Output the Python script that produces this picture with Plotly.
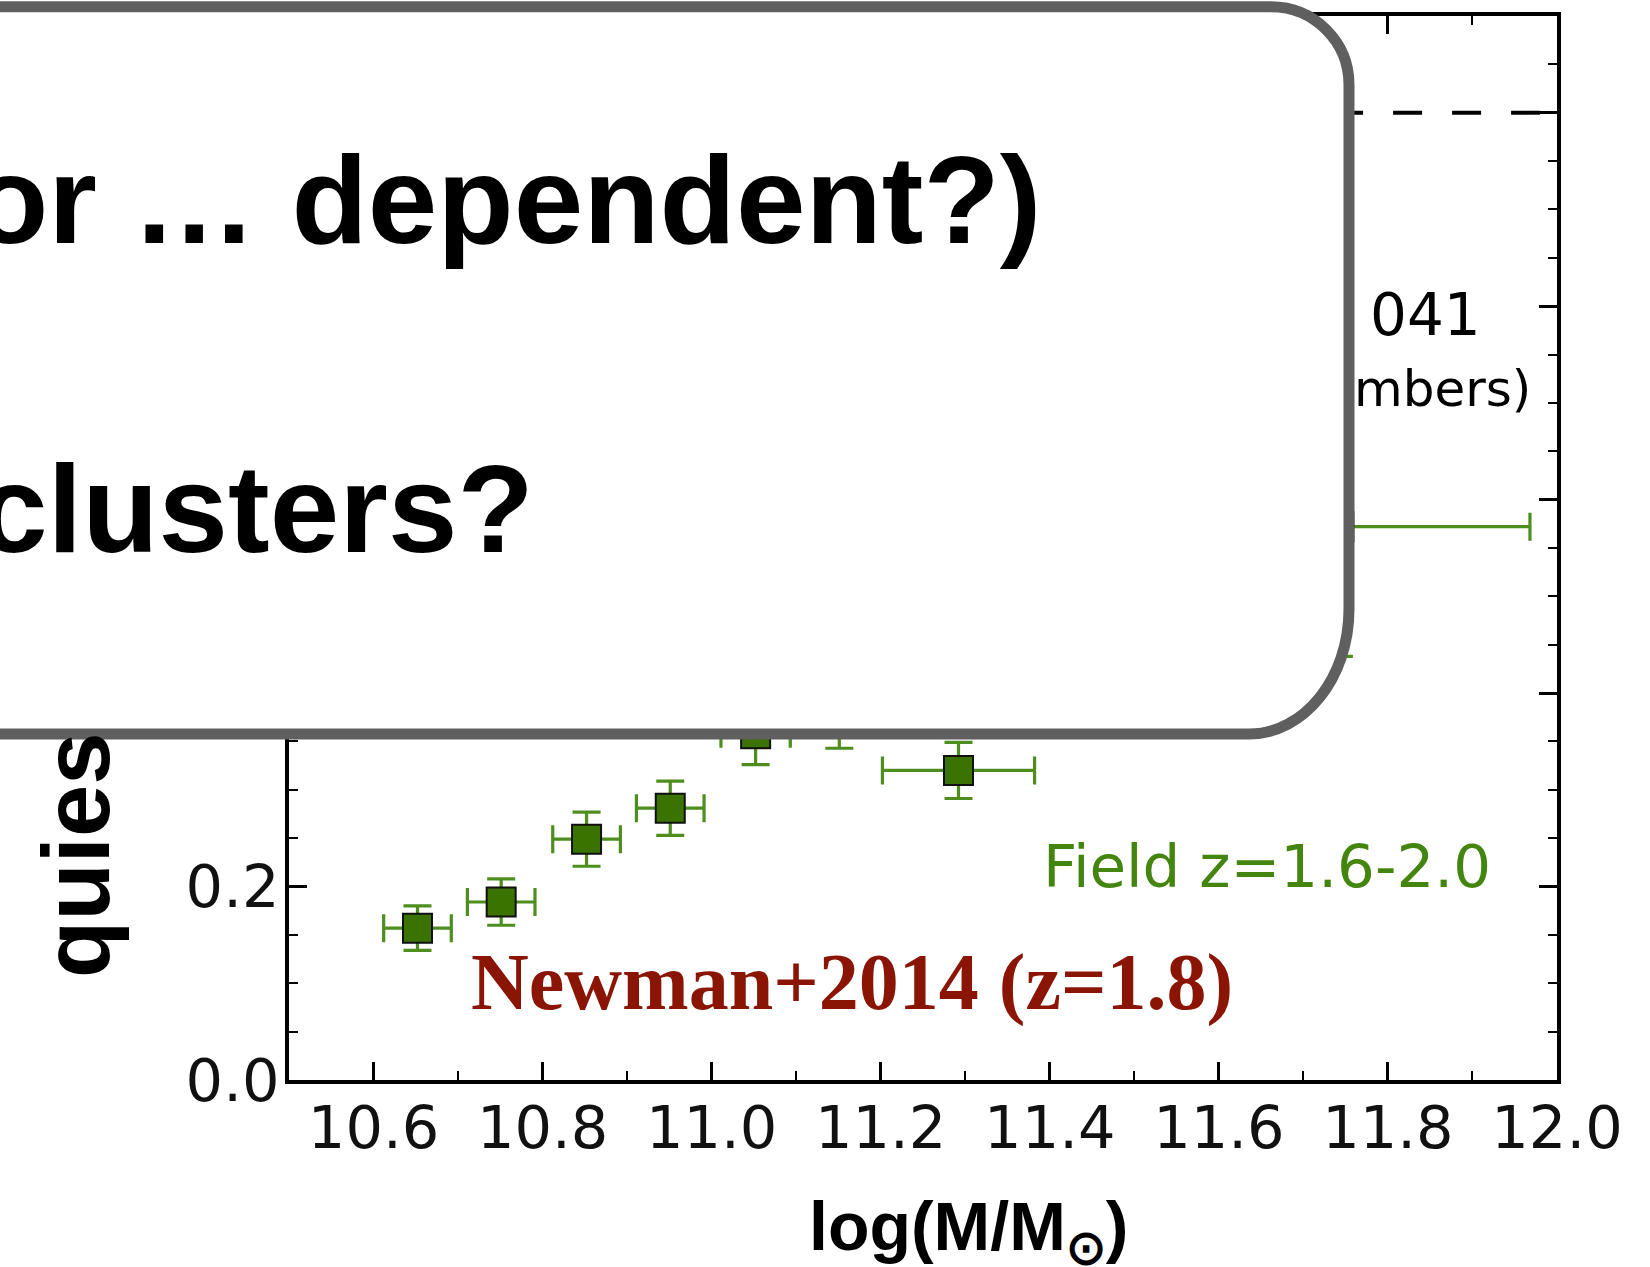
import plotly.graph_objects as go

# ---- data: quiescent fraction of field galaxies vs stellar mass ----
log_mass = [10.652, 10.751, 10.852, 10.951, 11.052, 11.151, 11.292, 11.742]
f_quiescent = [0.157, 0.184, 0.249, 0.281, 0.358, 0.373, 0.320, 0.572]
mass_err = [0.040, 0.040, 0.040, 0.040, 0.041, 0.040, 0.090, 0.226]
frac_err = [0.023, 0.024, 0.028, 0.028, 0.032, 0.030, 0.029, 0.134]

ref_mass = [10.48, 12.0]
ref_level = [1.0, 1.0]

x_range = [10.5, 12.0]
y_range = [0.0, 1.1]

# ---- page geometry (pixels) ----
W, H = 1650, 1267
ML, MR, MT, MB = 289, 93, 16, 187
PW = W - ML - MR
PH = H - MT - MB


def px(x):
    return (x - ML) / PW


def py(y):
    return (H - MB - y) / PH


GREEN_FILL = "#3a7300"
GREEN_BAR = "#4d8e1e"
GREEN_TEXT = "#43850f"
SANS = "Liberation Sans, Arial, Helvetica, sans-serif"
MPL = "DejaVu Sans, sans-serif"

fig = go.Figure()

fig.add_trace(go.Scatter(
    x=ref_mass, y=ref_level, mode="lines",
    line=dict(color="black", width=4, dash="29px,30px"),
    hoverinfo="skip", showlegend=False,
))

fig.add_trace(go.Scatter(
    x=log_mass, y=f_quiescent, mode="markers",
    marker=dict(symbol="square", size=29, color=GREEN_FILL,
                line=dict(color="#111111", width=2)),
    error_x=dict(type="data", array=mass_err, color=GREEN_BAR, thickness=3.2, width=14),
    error_y=dict(type="data", array=frac_err, color=GREEN_BAR, thickness=3.2, width=14),
    showlegend=False,
))

axis_common = dict(
    showline=True, linecolor="black", linewidth=3.5, mirror="ticks",
    ticks="inside", ticklen=18, tickwidth=2.5, tickcolor="black",
    showgrid=False, zeroline=False, tickformat=".1f",
    tickfont=dict(family=MPL, size=59, color="#111111"),
)

fig.update_xaxes(
    range=x_range, dtick=0.2, tick0=0,
    minor=dict(dtick=0.1, ticks="inside", ticklen=9, tickwidth=2, tickcolor="black"),
    ticklabelstandoff=-7,
    **axis_common,
)
fig.update_yaxes(
    range=y_range, dtick=0.2, tick0=0,
    minor=dict(dtick=0.05, ticks="inside", ticklen=9, tickwidth=2, tickcolor="black"),
    ticklabelstandoff=-6,
    **axis_common,
)

# ---- slide callout box with rounded right corners ----
k = 0.5523
x_r = 1349
y_t, y_b = 6.7, 734
r_top = 78
rx_b, ry_b = 100, 125
pts = [
    ("M", (-80, y_t)),
    ("L", (x_r - r_top, y_t)),
    ("C", (x_r - r_top + r_top * k, y_t), (x_r, y_t + r_top - r_top * k), (x_r, y_t + r_top)),
    ("L", (x_r, y_b - ry_b)),
    ("C", (x_r, y_b - ry_b + ry_b * k), (x_r - rx_b + rx_b * k, y_b), (x_r - rx_b, y_b)),
    ("L", (-80, y_b)),
]
path = ""
for cmd, *coords in pts:
    path += cmd + " ".join(f"{px(a):.5f},{py(b):.5f}" for a, b in coords) + " "
path += "Z"

fig.add_shape(type="path", path=path, xref="paper", yref="paper",
              fillcolor="white", line=dict(color="#5f5f5f", width=11), layer="above")


def note(text, x, y, size, family, color="black", xanchor="left", bold=False, angle=0):
    fig.add_annotation(
        text=text, x=px(x), y=py(y), xref="paper", yref="paper",
        xanchor=xanchor, yanchor="middle", showarrow=False, textangle=angle,
        borderpad=0, borderwidth=0,
        font=dict(family=family, size=size, color=color, weight="bold" if bold else "normal"),
    )


# slide text
note("or … dependent?)", -28, 199.3, 125, SANS, bold=True)
note("clusters?", -22, 508.4, 125, SANS, bold=True)

# axis titles
note("quies", 76, 855, 94, SANS, xanchor="center", bold=True, angle=-90)
note("log(M/M<sub>⊙</sub>)", 968, 1231, 68, SANS, xanchor="center", bold=True)

# in-panel labels
note("Field z=1.6-2.0", 1043, 866.6, 59.5, MPL, color=GREEN_TEXT)
note("Newman+2014 (z=1.8)", 471, 982, 80, "Liberation Serif, Times New Roman, serif",
     color="#8a1505", bold=True)
note("041", 1481, 315, 58, MPL, xanchor="right")
note("mbers)", 1531, 389, 50, MPL, xanchor="right")

fig.update_layout(
    width=W, height=H,
    margin=dict(l=ML, r=MR, t=MT, b=MB, pad=0),
    paper_bgcolor="white", plot_bgcolor="white",
    showlegend=False,
)

fig.write_html("out.html")
